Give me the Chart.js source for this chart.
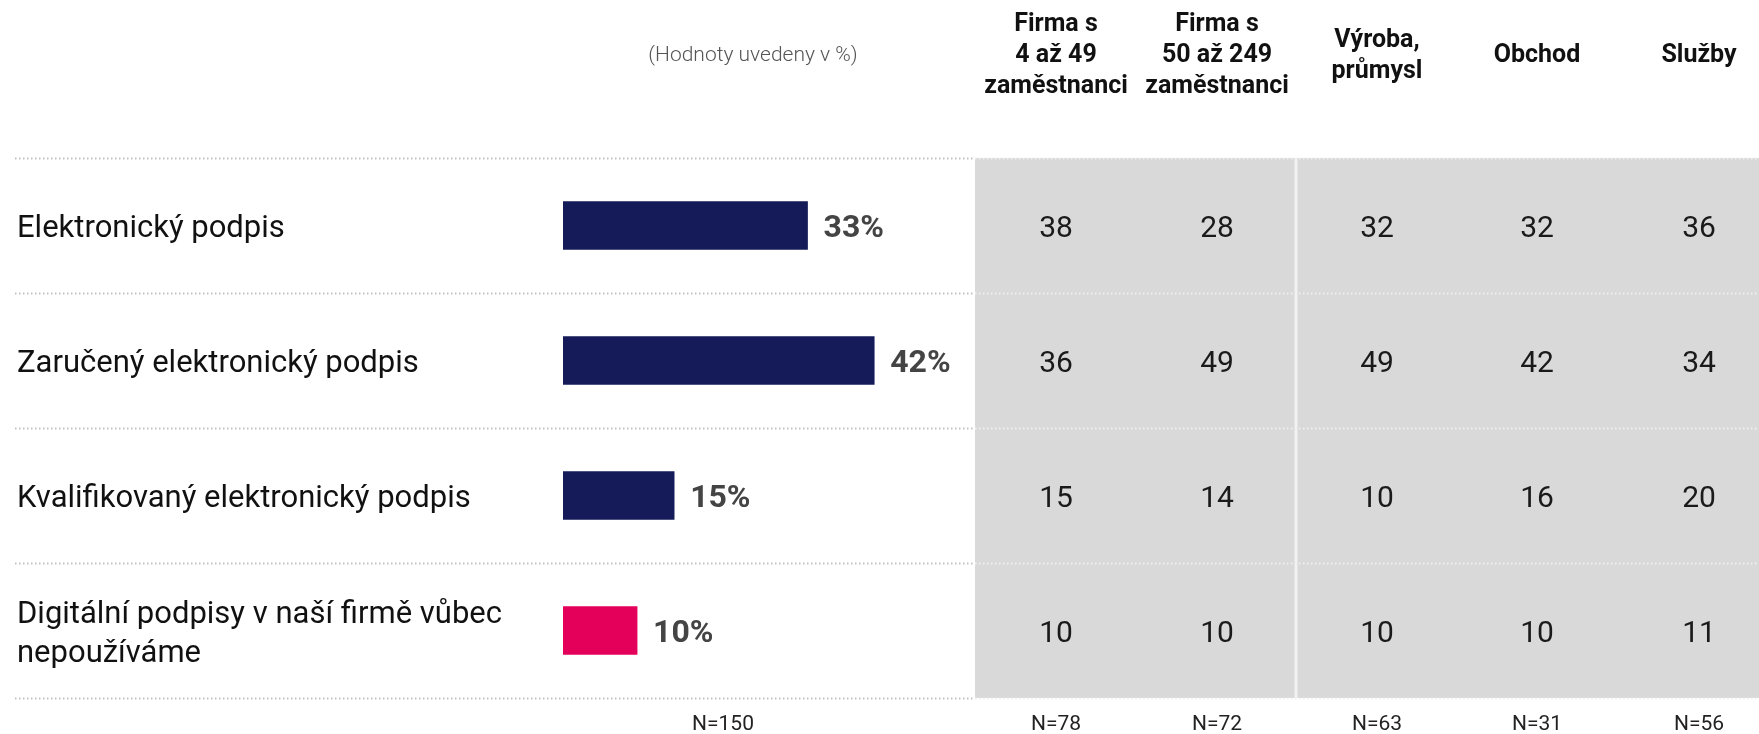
<!DOCTYPE html>
<html>
<head>
<meta charset="utf-8">
<script src="https://cdn.jsdelivr.net/npm/chart.js@4/dist/chart.umd.min.js"></script>
<style>
  html, body { margin: 0; padding: 0; background: #fff; }
  canvas { display: block; }
</style>
</head>
<body>
<canvas id="signatures-canvas" width="1759" height="734"></canvas>
<script>
    // data
    var categories = [
        'Elektronický podpis',
        'Zaručený elektronický podpis',
        'Kvalifikovaný elektronický podpis',
        ['Digitální podpisy v naší firmě vůbec', 'nepoužíváme']
    ];
    var totalValues = [33, 42, 15, 10];
    var totalN = 'N=150';

    var groupNames = [
        ['Firma s', '4 až 49', 'zaměstnanci'],
        ['Firma s', '50 až 249', 'zaměstnanci'],
        ['Výroba,', 'průmysl'],
        ['Obchod'],
        ['Služby']
    ];
    var firmaSmall = [38, 36, 15, 10];
    var firmaMedium = [28, 49, 14, 10];
    var vyroba = [32, 49, 10, 10];
    var obchod = [32, 42, 16, 10];
    var sluzby = [36, 34, 20, 11];
    var groupN = ['N=78', 'N=72', 'N=63', 'N=31', 'N=56'];
    var noteText = '(Hodnoty uvedeny v %)';

    var groupValues = [firmaSmall, firmaMedium, vyroba, obchod, sluzby];

    // layout
    var columnCenters = [1056, 1217, 1377, 1537, 1699];
    var tableLeft = 975;
    var separatorX = 1296;
    var barColors = ['#141b58', '#141b58', '#141b58', '#e4005a'];

    var tablePlugin = {
        id: 'tablePlugin',
        beforeDatasetsDraw: function(chart) {
            var ctx = chart.ctx;
            var yScale = chart.scales.y;
            var pitch = yScale.getPixelForValue(1) - yScale.getPixelForValue(0);
            var top = yScale.getPixelForValue(0) - pitch / 2;
            var bottom = yScale.getPixelForValue(categories.length - 1) + pitch / 2;

            ctx.save();
            ctx.fillStyle = '#d9d9d9';
            ctx.fillRect(tableLeft, top, chart.width - tableLeft, bottom - top);
            ctx.fillStyle = '#f2f2f2';
            ctx.fillRect(separatorX - 1.5, top, 3, bottom - top);

            // dotted row separators
            ctx.lineWidth = 2;
            ctx.setLineDash([1.5, 2.5]);
            for (var i = 0; i <= categories.length; i++) {
                var y = Math.round(top + i * pitch) + 0.5;
                ctx.strokeStyle = '#c2c2c2';
                ctx.beginPath();
                ctx.moveTo(15, y);
                ctx.lineTo(tableLeft, y);
                ctx.stroke();
                ctx.strokeStyle = '#f0f0f0';
                ctx.beginPath();
                ctx.moveTo(tableLeft, y);
                ctx.lineTo(chart.width, y);
                ctx.stroke();
            }
            ctx.restore();
        },
        afterDatasetsDraw: function(chart) {
            var ctx = chart.ctx;
            var yScale = chart.scales.y;
            var meta = chart.getDatasetMeta(0);
            var pitch = yScale.getPixelForValue(1) - yScale.getPixelForValue(0);
            var bottom = yScale.getPixelForValue(categories.length - 1) + pitch / 2;

            ctx.save();
            ctx.textBaseline = 'middle';

            // category labels
            ctx.fillStyle = '#111';
            ctx.font = '400 31px Roboto';
            ctx.textAlign = 'left';
            for (var i = 0; i < categories.length; i++) {
                var y = yScale.getPixelForValue(i) + 4;
                var lines = Array.isArray(categories[i]) ? categories[i] : [categories[i]];
                for (var l = 0; l < lines.length; l++) {
                    ctx.fillText(lines[l], 17, y + (l - (lines.length - 1) / 2) * 39);
                }
            }

            // value labels at bar ends
            ctx.fillStyle = '#444';
            ctx.font = '700 32px Roboto';
            for (var i = 0; i < meta.data.length; i++) {
                var bar = meta.data[i];
                ctx.fillText(totalValues[i] + '%', bar.x + 16, bar.y + 3);
            }

            // table values
            ctx.fillStyle = '#1a1a1a';
            ctx.font = '400 30px Roboto';
            ctx.textAlign = 'center';
            for (var c = 0; c < groupValues.length; c++) {
                for (var r = 0; r < categories.length; r++) {
                    ctx.fillText(String(groupValues[c][r]), columnCenters[c], yScale.getPixelForValue(r) + 4);
                }
            }

            // column headers
            ctx.fillStyle = '#111';
            ctx.font = '700 25px Roboto';
            for (var c = 0; c < groupNames.length; c++) {
                var lines = groupNames[c];
                for (var l = 0; l < lines.length; l++) {
                    ctx.fillText(lines[l], columnCenters[c], 56 + (l - (lines.length - 1) / 2) * 31);
                }
            }

            // note
            ctx.fillStyle = '#555';
            ctx.font = '300 21px Roboto';
            ctx.fillText(noteText, 753, 56);

            // sample sizes
            ctx.fillStyle = '#222';
            ctx.font = '400 21px Roboto';
            ctx.fillText(totalN, 723, bottom + 27);
            for (var c = 0; c < groupN.length; c++) {
                ctx.fillText(groupN[c], columnCenters[c], bottom + 27);
            }
            ctx.restore();
        }
    };

    var ctx = document.getElementById('signatures-canvas').getContext('2d');
    var chart = new Chart(ctx, {
        type: 'bar',
        data: {
            labels: categories,
            datasets: [{
                data: totalValues,
                backgroundColor: barColors,
                borderWidth: 0,
                barThickness: 48
            }]
        },
        options: {
            indexAxis: 'y',
            responsive: false,
            animation: false,
            layout: {
                padding: { left: 563, right: 784, top: 158, bottom: 36 }
            },
            scales: {
                x: { display: false, min: 0, max: 55.6 },
                y: { display: false }
            },
            plugins: {
                legend: { display: false },
                tooltip: { enabled: false }
            }
        },
        plugins: [tablePlugin]
    });
</script>
</body>
</html>
